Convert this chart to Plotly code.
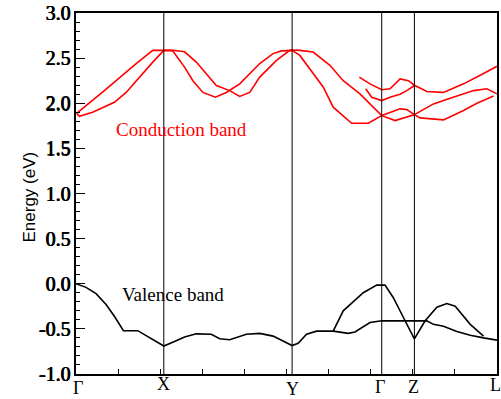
import plotly.graph_objects as go

# High-symmetry points along k-path (path coordinate)
kpt_labels = ["Γ", "X", "Y", "Γ", "Z", "L"]
kpt_pos = [0.0, 87.6, 215.6, 305.0, 337.6, 420.0]

# Energy tick labels
e_ticks = [-1.0, -0.5, 0.0, 0.5, 1.0, 1.5, 2.0, 2.5, 3.0]

# Conduction bands
cb1_k = [0.6, 28.3, 60.0, 76.6, 87.6, 95.0, 108.3, 120.0, 140.0, 153.3, 163.3, 173.3, 183.3, 200.0, 213.3, 215.6,
         223.3, 236.6, 253.3, 266.6, 283.3, 305.0, 323.3, 330.0, 337.6, 356.6, 366.6, 386.6, 396.6, 410.0, 420.0]
cb1_e = [1.889, 2.14, 2.44, 2.586, 2.586, 2.59, 2.57, 2.456, 2.197, 2.14, 2.075, 2.12, 2.29, 2.474, 2.586, 2.59,
         2.586, 2.567, 2.42, 2.25, 2.104, 1.863, 1.938, 1.93, 1.874, 1.993, 2.03, 2.104, 2.14, 2.16, 2.104]
cb2_k = [0.6, 3.3, 16.6, 28.3, 38.3, 50.0, 63.3, 76.6, 87.6, 96.6, 108.3, 116.6, 126.6, 139.0, 150.0, 163.3, 183.3,
         196.6, 205.0, 215.6, 223.3, 246.6, 256.6, 275.0, 291.6, 305.0, 318.3, 337.6, 343.3, 366.6, 386.6, 400.0, 416.6]
cb2_e = [1.889, 1.856, 1.90, 1.956, 2.011, 2.12, 2.29, 2.456, 2.586, 2.58, 2.40, 2.25, 2.12, 2.067, 2.12, 2.215, 2.44,
         2.55, 2.58, 2.586, 2.53, 2.18, 1.956, 1.778, 1.778, 1.863, 1.808, 1.874, 1.838, 1.816, 1.92, 2.0, 2.08]
cb3_k = [282.6, 293.3, 305.0, 313.3, 323.3, 331.6, 337.6, 350.0, 366.6, 386.6, 403.3, 420.0]
cb3_e = [2.29, 2.215, 2.15, 2.16, 2.27, 2.25, 2.20, 2.13, 2.12, 2.215, 2.31, 2.41]
cb4_k = [289.0, 295.0, 305.0, 313.3, 323.3, 330.0, 337.6]
cb4_e = [2.16, 2.067, 2.03, 2.067, 2.10, 2.14, 2.197]

# Valence bands
vb1_k = [0.0, 10.0, 20.0, 30.0, 38.3, 47.3, 61.6, 73.3, 87.6, 98.3, 108.3, 120.0, 135.0, 143.3, 153.3, 170.0,
         183.3, 196.6, 206.6, 215.6, 221.6, 230.0, 240.0, 256.6, 271.6, 278.3, 293.3, 305.0, 337.6, 350.0,
         356.6, 366.6, 380.0, 393.3, 406.6, 420.0]
vb1_e = [0.0, -0.04, -0.11, -0.23, -0.36, -0.52, -0.52, -0.60, -0.69, -0.64, -0.59, -0.555, -0.56, -0.61, -0.62,
         -0.56, -0.55, -0.58, -0.64, -0.685, -0.66, -0.56, -0.525, -0.525, -0.55, -0.535, -0.43, -0.41, -0.41,
         -0.41, -0.45, -0.47, -0.53, -0.57, -0.60, -0.625]
vb2_k = [256.6, 266.6, 286.6, 300.0, 308.3, 316.6, 328.3, 337.6, 348.3, 360.0, 370.0, 378.3, 393.3, 406.6]
vb2_e = [-0.525, -0.30, -0.10, -0.015, -0.015, -0.155, -0.41, -0.61, -0.41, -0.26, -0.22, -0.25, -0.45, -0.58]
vb3_k = [305.0, 350.0]
vb3_e = [-0.41, -0.41]

red = "#ff0000"
serif = "Liberation Serif, Times New Roman, serif"
fig = go.Figure()
for kk, ee in [(cb1_k, cb1_e), (cb2_k, cb2_e), (cb3_k, cb3_e), (cb4_k, cb4_e)]:
    fig.add_trace(go.Scatter(x=kk, y=ee, mode="lines", line=dict(color=red, width=1.6),
                             showlegend=False, hoverinfo="skip"))
for kk, ee in [(vb1_k, vb1_e), (vb2_k, vb2_e), (vb3_k, vb3_e)]:
    fig.add_trace(go.Scatter(x=kk, y=ee, mode="lines", line=dict(color="black", width=1.6),
                             showlegend=False, hoverinfo="skip"))

for xp in kpt_pos[1:-1]:
    fig.add_shape(type="line", xref="x", yref="paper", x0=xp, x1=xp, y0=0, y1=1,
                  line=dict(color="black", width=1))

# k-point labels below the axis
label_shift = [-14, -10, -15, -13, -13, -11]
label_dx = [2, 0, 0, -2, -1, -2]
for lab, xp, dy, dx in zip(kpt_labels, kpt_pos, label_shift, label_dx):
    fig.add_annotation(x=xp, y=0, xref="x", yref="paper", text=lab, showarrow=False,
                       yanchor="middle", yshift=dy, xshift=dx,
                       font=dict(family=serif, size=18, color="black"))

fig.add_annotation(x=105.3, y=1.71, text="Conduction band", showarrow=False,
                   font=dict(family=serif, size=19, color=red))
fig.add_annotation(x=97, y=-0.118, text="Valence band", showarrow=False,
                   font=dict(family=serif, size=19, color="black"))
fig.add_annotation(x=-0.138, y=0.49, xref="paper", yref="paper", text="Energy (eV)", showarrow=False,
                   textangle=-90, font=dict(family="Liberation Sans", size=17, color="black"))

fig.update_layout(
    width=501, height=399,
    margin=dict(l=76, r=4, t=13, b=25),
    plot_bgcolor="white", paper_bgcolor="white",
    xaxis=dict(range=[0, 420], showticklabels=False, ticks="", showgrid=False,
               automargin=False,
               zeroline=False, showline=True, mirror=True, linecolor="black", linewidth=1.5,
               minor=dict(tick0=0, dtick=42, ticks="inside", ticklen=5, tickcolor="black", showgrid=False)),
    yaxis=dict(range=[-1.0, 3.0], tickvals=e_ticks, ticktext=["%.1f" % v for v in e_ticks],
               ticks="inside", ticklen=9,
               automargin=False,
               tickcolor="black", showgrid=False, zeroline=False, showline=True, mirror=True,
               linecolor="black", linewidth=1.5,
               tickfont=dict(family=serif, size=20, color="black", weight="normal",
                             shadow="0.8px 0px 0px black, 0.4px 0.3px 0px black"),
               minor=dict(dtick=0.1, ticks="inside", ticklen=4, tickcolor="black", showgrid=False)),
)

fig.write_html("out.html")
